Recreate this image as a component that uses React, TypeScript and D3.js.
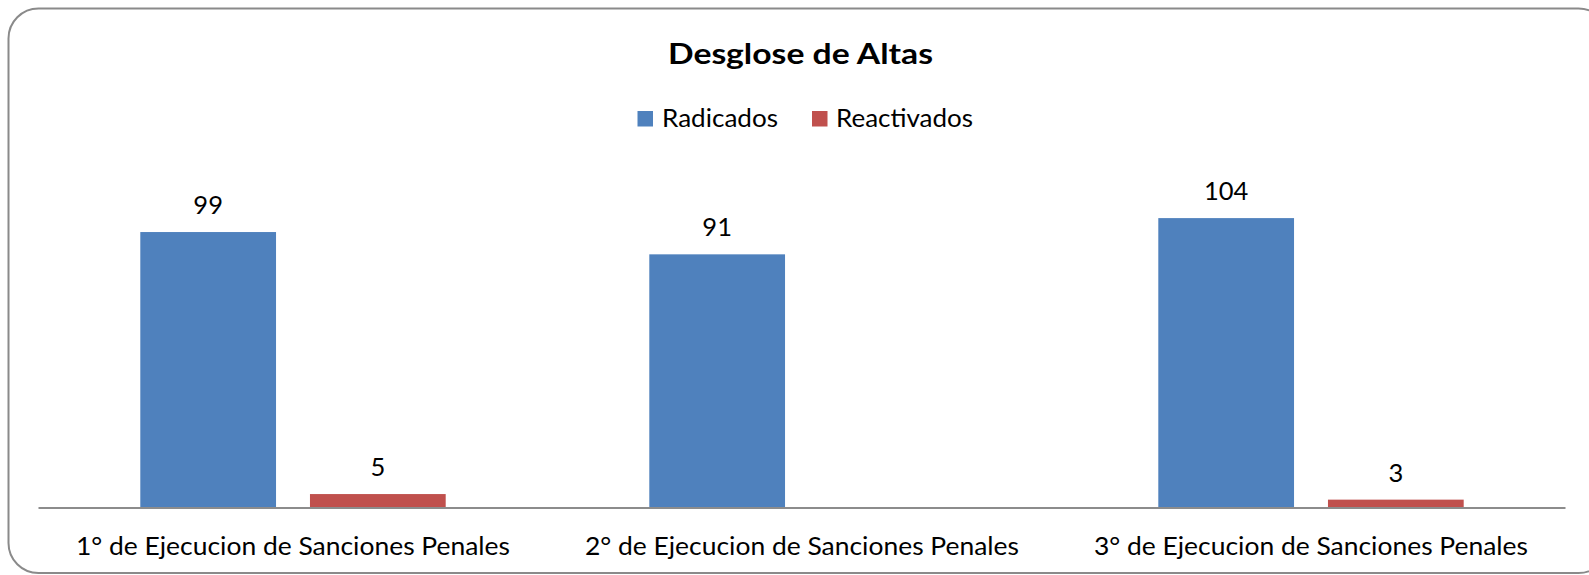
import React from "react";
import * as d3 from "d3";

const categories = [
  "1° de Ejecucion de Sanciones Penales",
  "2° de Ejecucion de Sanciones Penales",
  "3° de Ejecucion de Sanciones Penales",
];
const seriesNames = ["Radicados", "Reactivados"];
const radicados: (number | null)[] = [99, 91, 104];
const reactivados: (number | null)[] = [5, null, 3];
const colors = ["#4F81BD", "#C0504D"];
const title = "Desglose de Altas";

const W = 1589;
const H = 575;
const FONT = "Lato, 'Open Sans', sans-serif";

export default function App() {
  const x0 = d3.scaleBand<string>().domain(categories).range([38.5, 1565.5]).paddingInner(0).paddingOuter(0);
  const x1 = d3.scaleBand<string>().domain(seriesNames).range([0, x0.bandwidth()]).paddingInner(0.2).paddingOuter(0.6);
  const y = d3.scaleLinear().domain([0, 120]).range([508, 173.5]);
  const series = [radicados, reactivados];

  const legendItems = [
    { name: seriesNames[0], sq: 637.5, tx: 662, len: 116 },
    { name: seriesNames[1], sq: 812, tx: 836, len: 137 },
  ];

  return (
    <svg width={W} height={H} style={{ position: "absolute", left: 0, top: 0, background: "#fff" }} fontFamily={FONT}>
      <rect x={8.5} y={8.5} width={1600} height={564.5} rx={30} ry={30} fill="#fff" stroke="#8a8a8a" strokeWidth={2} />
      <text x={668} y={64} fontSize={29} fontWeight="bold" fill="#000" textLength={265} lengthAdjust="spacingAndGlyphs">{title}</text>
      {legendItems.map((l, i) => (
        <g key={l.name}>
          <rect x={l.sq} y={111} width={15.5} height={15.5} fill={colors[i]} />
          <text x={l.tx} y={126.7} fontSize={25} fill="#000" textLength={l.len} lengthAdjust="spacingAndGlyphs">{l.name}</text>
        </g>
      ))}
      {categories.map((c, ci) => (
        <g key={c}>
          {series.map((s, si) => {
            const v = s[ci];
            if (v == null) return null;
            const bx = (x0(c) as number) + (x1(seriesNames[si]) as number);
            const bw = x1.bandwidth();
            return (
              <g key={si}>
                <rect x={bx} y={y(v)} width={bw} height={y(0) - y(v)} fill={colors[si]} />
                <text x={bx + bw / 2} y={y(v) - 18} textAnchor="middle" fontSize={25.5} fill="#000">{v}</text>
              </g>
            );
          })}
          <text x={(x0(c) as number) + x0.bandwidth() / 2} y={554.5} textAnchor="middle" fontSize={25} fill="#000" textLength={434} lengthAdjust="spacingAndGlyphs">{c}</text>
        </g>
      ))}
      <line x1={38.5} x2={1565.5} y1={y(0)} y2={y(0)} stroke="#8c8c8c" strokeWidth={2} />
    </svg>
  );
}
